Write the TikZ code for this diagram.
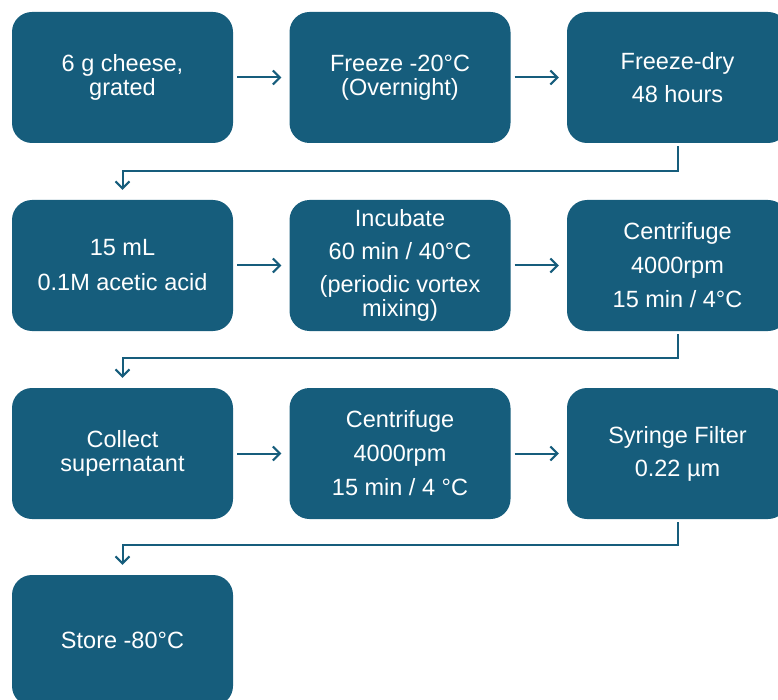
\documentclass[tikz,border=0pt]{standalone}
\usepackage{fontspec}
\setmainfont{Liberation Sans}
\usetikzlibrary{arrows.meta}
\definecolor{petrol}{RGB}{22,93,124}
\begin{document}
\begin{tikzpicture}[x=1pt, y=-1pt,
    stepbox/.style={fill=petrol, rounded corners=20pt, minimum width=221pt, minimum height=131pt,
        inner sep=0pt, align=center, text=white, font=\fontsize{23.5}{24}\selectfont},
    flow/.style={draw=petrol, line width=2pt, -{Straight Barb[length=7pt,width=14pt]}},
    side/.style={flow, shorten <=4pt, shorten >=8pt},
    turn/.style={flow, shorten <=3pt, shorten >=10pt}]
    \path[use as bounding box, clip] (0,0) rectangle (778,700);
    % Row 1
    \node[stepbox] (cheese) at (122.5, 77.5) {6 g cheese,\\grated};
    \node[stepbox] (freeze) at (400, 77.5) {Freeze -20°C\\(Overnight)};
    \node[stepbox] (fdry) at (677.5, 77.5) {Freeze-dry\\[9pt]48 hours};
    % Row 2
    \node[stepbox] (acid) at (122.5, 265.5) {15 mL\\[11pt]0.1M acetic acid};
    \node[stepbox] (incub) at (400, 265.5) {Incubate\\[9pt]60 min / 40°C\\[9pt](periodic vortex\\mixing)};
    \node[stepbox] (cent1) at (677.5, 265.5) {Centrifuge\\[10pt]4000rpm\\[10pt]15 min / 4°C};
    % Row 3
    \node[stepbox] (collect) at (122.5, 453.5) {Collect\\supernatant};
    \node[stepbox] (cent2) at (400, 453.5) {Centrifuge\\[10pt]4000rpm\\[10pt]15 min / 4 °C};
    \node[stepbox] (filter) at (677.5, 453.5) {Syringe Filter\\[9pt]0.22 µm};
    % Row 4
    \node[stepbox] (store) at (122.5, 640.5) {Store -80°C};
    % Arrows
    \draw[side] (cheese) -- (freeze);
    \draw[side] (freeze) -- (fdry);
    \draw[side] (acid) -- (incub);
    \draw[side] (incub) -- (cent1);
    \draw[side] (collect) -- (cent2);
    \draw[side] (cent2) -- (filter);
    \draw[turn] (fdry.south) -- ++(0,28) -| (acid.north);
    \draw[turn] (cent1.south) -- ++(0,27) -| (collect.north);
    \draw[turn] (filter.south) -- ++(0,26) -| (store.north);
\end{tikzpicture}
\end{document}
